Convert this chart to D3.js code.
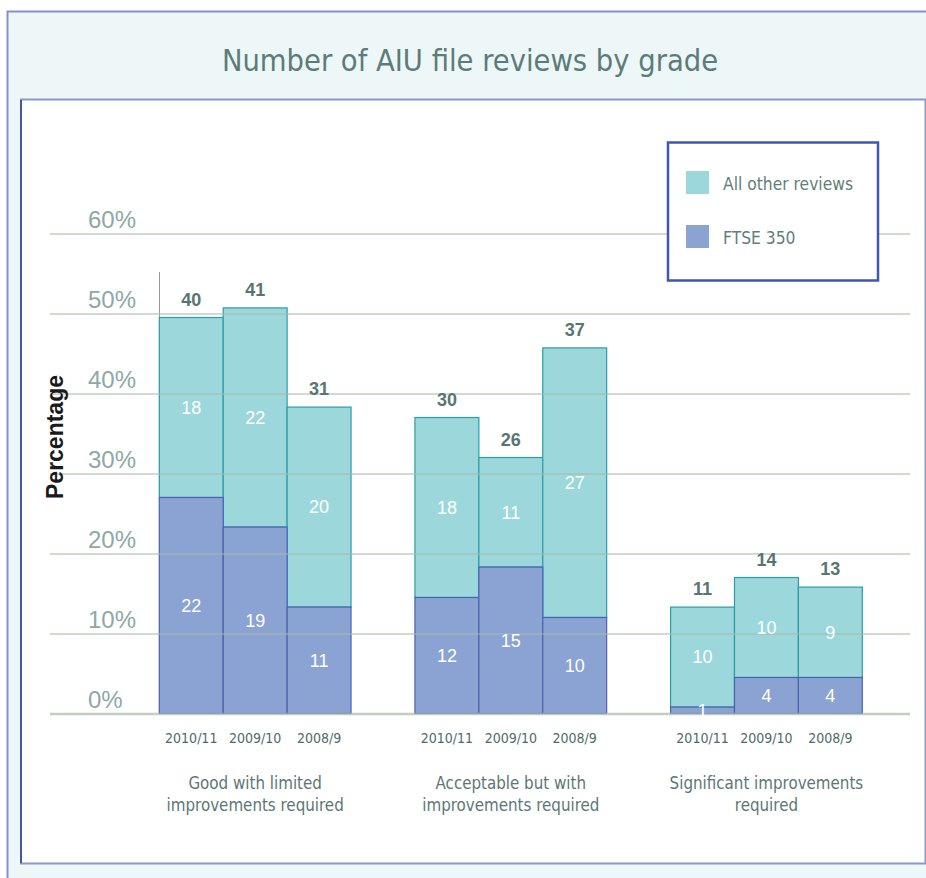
<!DOCTYPE html>
<html>
<head>
<meta charset="utf-8">
<script src="https://cdn.jsdelivr.net/npm/d3@7"></script>
<style>
  body { margin: 0; background: #ffffff; }
  .narrow { font-family: "Liberation Sans Narrow", "Arial Narrow", "DejaVu Sans Condensed", sans-serif; font-stretch: condensed; }
</style>
</head>
<body>
<div id="chart"></div>
<script>
// Chart size
const width = 926;
const height = 878;

// Data
const groupLines = [
  ["Good with limited", "improvements required"],
  ["Acceptable but with", "improvements required"],
  ["Significant improvements", "required"]
];
const years = ["2010/11", "2009/10", "2008/9"];
// bar heights (percent)
const ftsePct  = [[27.0, 23.3, 13.3], [14.5, 18.3, 12.0], [0.8, 4.5, 4.5]];
const totalPct = [[49.5, 50.7, 38.3], [37.0, 32.0, 45.7], [13.3, 17.0, 15.8]];
// numbers written on the bars
const ftseCount  = [[22, 19, 11], [12, 15, 10], [1, 4, 4]];
const otherCount = [[18, 22, 20], [18, 11, 27], [10, 10, 9]];
const totalCount = [[40, 41, 31], [30, 26, 37], [11, 14, 13]];
const yTicks = [0, 10, 20, 30, 40, 50, 60];
const seriesNames = ["All other reviews", "FTSE 350"];

const colors = {
  other: "#9bd7db", otherStroke: "#2a9ea6",
  ftse: "#8ba3d3", ftseStroke: "#4a61b2"
};

const svg = d3.select("#chart")
  .append("svg")
  .attr("width", width)
  .attr("height", height);

// Outer light frame + inner white panel
svg.append("rect")
  .attr("x", 7.5).attr("y", 11.5)
  .attr("width", width + 10).attr("height", height + 10)
  .attr("fill", "#eef7f8")
  .attr("stroke", "#8393c9").attr("stroke-width", 2);

svg.append("rect")
  .attr("x", 21).attr("y", 99.5)
  .attr("width", 904.5).attr("height", 764)
  .attr("fill", "#ffffff")
  .attr("stroke", "#8a99cb").attr("stroke-width", 2);
svg.append("line")
  .attr("x1", 21).attr("x2", 21).attr("y1", 100).attr("y2", 863)
  .attr("stroke", "#2f3f8c").attr("stroke-width", 1.5);

// Title
svg.append("text")
  .attr("class", "narrow")
  .attr("x", 470).attr("y", 71)
  .attr("text-anchor", "middle")
  .attr("font-size", "30.5px")
  .attr("fill", "#5b7c7a")
  .text("Number of AIU file reviews by grade");

/*
  Scales
*/
const yScale = d3.scaleLinear()
  .domain([0, 60])
  .range([713.5, 233.5]);

const xGroup = d3.scaleBand()
  .domain(d3.range(groupLines.length))
  .range([159.3, 862.3])
  .paddingInner(0.25)
  .paddingOuter(0);

const xYear = d3.scaleBand()
  .domain(d3.range(years.length))
  .range([0, xGroup.bandwidth()])
  .padding(0);

// flatten into one row per bar
const bars = [];
groupLines.forEach((g, gi) => {
  years.forEach((yr, yi) => {
    bars.push({
      g: gi, y: yi, year: yr,
      ftse: ftsePct[gi][yi], total: totalPct[gi][yi],
      nF: ftseCount[gi][yi], nO: otherCount[gi][yi], nT: totalCount[gi][yi]
    });
  });
});
const barX = d => xGroup(d.g) + xYear(d.y);

// vertical axis line left of first bar
svg.append("line")
  .attr("x1", 159.5).attr("x2", 159.5)
  .attr("y1", 272).attr("y2", yScale(0))
  .attr("stroke", "#9a9a9a").attr("stroke-width", 1);

/*
  Bars
*/
const barG = svg.append("g");

barG.selectAll(".other")
  .data(bars)
  .enter()
  .append("rect")
  .attr("class", "other")
  .attr("x", barX)
  .attr("y", d => yScale(d.total))
  .attr("width", xYear.bandwidth())
  .attr("height", d => yScale(d.ftse) - yScale(d.total))
  .attr("fill", colors.other)
  .attr("stroke", colors.otherStroke)
  .attr("stroke-width", 1.2);

barG.selectAll(".ftse")
  .data(bars)
  .enter()
  .append("rect")
  .attr("class", "ftse")
  .attr("x", barX)
  .attr("y", d => yScale(d.ftse))
  .attr("width", xYear.bandwidth())
  .attr("height", d => yScale(0) - yScale(d.ftse))
  .attr("fill", colors.ftse)
  .attr("stroke", colors.ftseStroke)
  .attr("stroke-width", 1.2);

/*
  Grid lines and y labels (drawn over the bars like the original)
*/
const yAxis = svg.append("g")
  .attr("transform", "translate(50,0)")
  .call(d3.axisRight(yScale).tickValues(yTicks).tickSize(860).tickFormat(d => d + "%"));
yAxis.select(".domain").remove();
yAxis.selectAll(".tick line")
  .attr("stroke", "#a8bba6")
  .attr("stroke-opacity", 0.7)
  .attr("stroke-width", d => d === 0 ? 2.5 : 1.5);
yAxis.selectAll(".tick text")
  .attr("x", 38).attr("dy", "-6px")
  .attr("text-anchor", "start")
  .attr("font-family", "'Liberation Sans', Arial, sans-serif")
  .attr("font-size", "24px")
  .attr("fill", "#8ea8a6");

// y title
svg.append("text")
  .attr("transform", "translate(63,437) rotate(-90)")
  .attr("text-anchor", "middle")
  .attr("font-family", "'Liberation Sans', Arial, sans-serif")
  .attr("font-weight", "bold")
  .attr("font-size", "23px")
  .attr("fill", "#1a1a1a")
  .text("Percentage");

/*
  Bar labels
*/
const labelG = svg.append("g")
  .attr("font-family", "'Liberation Sans', Arial, sans-serif");

labelG.selectAll(".lblOther")
  .data(bars)
  .enter()
  .append("text")
  .attr("x", d => barX(d) + xYear.bandwidth() / 2)
  .attr("y", d => (yScale(d.total) + yScale(d.ftse)) / 2)
  .attr("dy", "0.35em")
  .attr("text-anchor", "middle")
  .attr("font-size", "18px")
  .attr("fill", "#ffffff")
  .text(d => d.nO);

labelG.selectAll(".lblFtse")
  .data(bars)
  .enter()
  .append("text")
  .attr("x", d => barX(d) + xYear.bandwidth() / 2)
  .attr("y", d => (yScale(d.ftse) + yScale(0)) / 2)
  .attr("dy", "0.35em")
  .attr("text-anchor", "middle")
  .attr("font-size", "18px")
  .attr("fill", "#ffffff")
  .text(d => d.nF);

labelG.selectAll(".lblTotal")
  .data(bars)
  .enter()
  .append("text")
  .attr("x", d => barX(d) + xYear.bandwidth() / 2)
  .attr("y", d => yScale(d.total) - 12)
  .attr("text-anchor", "middle")
  .attr("font-size", "18px")
  .attr("font-weight", "bold")
  .attr("fill", "#587573")
  .text(d => d.nT);

/*
  X labels
*/
svg.selectAll(".yearLbl")
  .data(bars)
  .enter()
  .append("text")
  .attr("class", "narrow")
  .attr("x", d => barX(d) + xYear.bandwidth() / 2)
  .attr("y", 743)
  .attr("text-anchor", "middle")
  .attr("font-size", "14px")
  .attr("fill", "#4f6b69")
  .text(d => d.year);

const grpLbl = svg.selectAll(".grpLbl")
  .data(groupLines)
  .enter()
  .append("text")
  .attr("class", "narrow")
  .attr("x", (d, i) => xGroup(i) + xGroup.bandwidth() / 2)
  .attr("y", 789)
  .attr("text-anchor", "middle")
  .attr("font-size", "16.8px")
  .attr("fill", "#5b7775");
grpLbl.selectAll("tspan")
  .data(d => d)
  .enter()
  .append("tspan")
  .attr("x", function() { return this.parentNode.getAttribute("x"); })
  .attr("dy", (d, i) => i === 0 ? 0 : 22)
  .text(d => d);

/*
  Legend
*/
const legend = svg.append("g");
legend.append("rect")
  .attr("x", 668).attr("y", 142.5)
  .attr("width", 210).attr("height", 138)
  .attr("fill", "#ffffff")
  .attr("stroke", "#3f57b0").attr("stroke-width", 2.5);

const legendItems = legend.selectAll(".item")
  .data(seriesNames)
  .enter()
  .append("g")
  .attr("transform", (d, i) => `translate(686,${171 + i * 54})`);
legendItems.append("rect")
  .attr("width", 23).attr("height", 23)
  .attr("fill", (d, i) => i === 0 ? colors.other : colors.ftse);
legendItems.append("text")
  .attr("class", "narrow")
  .attr("x", 37).attr("y", 13)
  .attr("dy", "0.35em")
  .attr("font-size", "17.3px")
  .attr("fill", "#5f7e7c")
  .text(d => d);
</script>
</body>
</html>
